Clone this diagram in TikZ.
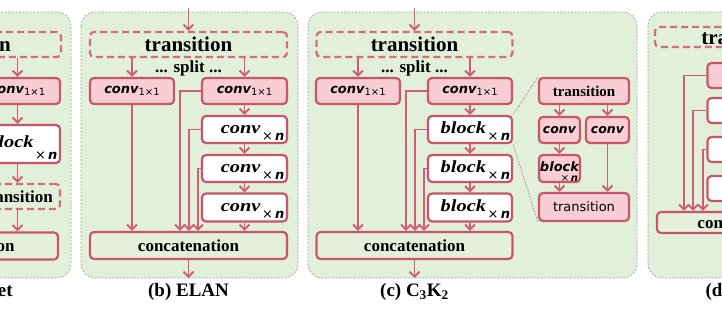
\documentclass[tikz,border=0pt]{standalone}
\usepackage{fontspec}
\setmainfont{Liberation Serif}
\newfontfamily\sansf{DejaVu Sans}
\newfontfamily\wideserif[FakeStretch=1.2]{Liberation Serif}
\usetikzlibrary{arrows.meta}

\definecolor{panelgreen}{HTML}{E2EFDA}
\definecolor{panelline}{HTML}{98A894}
\definecolor{boxpink}{HTML}{F8CED4}
\definecolor{boxred}{HTML}{C8566A}
\definecolor{flowred}{HTML}{CF5E72}
\definecolor{catgreen}{HTML}{E4F0DC}

\newcommand{\fsz}[1]{\fontsize{#1}{#1}\selectfont}
\newcommand{\sconv}[1]{{\sansf\bfseries\itshape\fsz{#1}conv}}
\newcommand{\onebyone}{\raisebox{-2pt}{\sansf\fsz{10}1×1}}
\newcommand{\timesn}[1]{{\sansf\fsz{#1}×\,{\bfseries\itshape n}}}
\newcommand{\xnbox}[2]{\makebox[80pt][r]{{\wideserif\bfseries\itshape\fsz{17}#1}\smash{\raisebox{#2}{\,\timesn{13}}}}}

\begin{document}
\begin{tikzpicture}[x=1pt, y=-1pt,
    panelbg/.style={fill=panelgreen, draw=panelline, line width=0.7pt, dash pattern=on 2pt off 1.6pt, rounded corners=14pt},
    unitbox/.style={draw=boxred, line width=2.2pt, rounded corners=4pt, inner sep=2pt},
    pinkbox/.style={unitbox, fill=boxpink},
    whitebox/.style={unitbox, fill=white, text height=7pt, text depth=0pt},
    catbox/.style={unitbox, fill=catgreen},
    transbox/.style={unitbox, draw=boxred!85, dash pattern=on 7pt off 4pt},
    flow/.style={draw=flowred, line width=1.9pt, -{Straight Barb[length=5pt,width=10pt]}},
    zoomline/.style={draw=boxred!80!black, line width=0.6pt, densely dotted},
    bigtext/.style={font=\bfseries\fsz{21}},
    midtext/.style={font=\bfseries\fsz{17}},
    captext/.style={font=\bfseries\fsz{19}}]

    % Frame
    \useasboundingbox (0,0) rectangle (722,308);
    \clip (0,0) rectangle (722,308);

    % Panel backgrounds
    \draw[panelbg] (-200,12) rectangle (71,278);
    \draw[panelbg] (81,12) rectangle (298,278);
    \draw[panelbg] (308,12) rectangle (637,278);
    \draw[panelbg] (648,12) rectangle (900,278);

    % (a) CSPNet
    \node[transbox, bigtext, minimum width=188pt, minimum height=25pt] (atr) at (-33,44.5) {transition};
    \node[pinkbox, minimum width=85pt, minimum height=26pt] (ac1) at (17.5,91) {\sconv{13}\onebyone};
    \node[whitebox, minimum width=85pt, minimum height=38pt] (abk) at (17.5,144) {\xnbox{block}{-12pt}};
    \node[transbox, midtext, minimum width=85pt, minimum height=25pt] (atr2) at (17.5,196.5) {transition};
    \node[catbox, midtext, minimum width=188pt, minimum height=27pt] (acat) at (-36,246) {concatenation};
    \draw[flow] (ac1.north |- atr.south) -- (ac1.north);
    \draw[flow] (ac1) -- (abk);
    \draw[flow] (abk) -- (atr2);
    \draw[flow] (atr2.south) -- (atr2.south |- acat.north);
    \node[captext] (alab) at (-33,292) {(a) CSPNet};

    % (b) ELAN
    \coordinate (bin) at (188.5,8);
    \coordinate (bout) at (188.5,278);
    \coordinate (bf1) at (180,0);
    \coordinate (bf2) at (189,0);
    \coordinate (bf3) at (198,0);
    \node[transbox, bigtext, minimum width=197pt, minimum height=25pt] (btr) at (188.5,44.5) {transition};
    \node[midtext, inner sep=0pt] (bsplit) at (188.5,68.5) {... split ...};
    \node[pinkbox, minimum width=84pt, minimum height=26pt] (bc1) at (132,91) {\sconv{13}\onebyone};
    \node[pinkbox, minimum width=85pt, minimum height=26pt] (bc2) at (244.5,91) {\sconv{13}\onebyone};
    \node[whitebox, minimum width=85pt, minimum height=27pt] (bn1) at (244.5,129.5) {\xnbox{conv}{-7pt}};
    \node[whitebox, minimum width=85pt, minimum height=27pt] (bn2) at (244.5,168.5) {\xnbox{conv}{-7pt}};
    \node[whitebox, minimum width=85pt, minimum height=28pt] (bn3) at (244.5,207.5) {\xnbox{conv}{-7pt}};
    \node[catbox, midtext, minimum width=197pt, minimum height=27pt] (bcat) at (188.5,245.5) {concatenation};
    \draw[flow] (bin) -- (btr.north);
    \draw[flow] (bc1.north |- btr.south) -- (bc1.north);
    \draw[flow] (bc2.north |- btr.south) -- (bc2.north);
    \foreach \a/\b in {bc2/bn1, bn1/bn2, bn2/bn3} \draw[flow] (\a) -- (\b);
    \draw[flow] (bn3.south) -- (bn3.south |- bcat.north);
    \draw[flow] (bc1.south) -- (bc1.south |- bcat.north);
    \draw[flow] (bc2.west) -| (bf1 |- bcat.north);
    \draw[flow] (bn1.west) -| (bf2 |- bcat.north);
    \draw[flow] (bn2.west) -| (bf3 |- bcat.north);
    \draw[flow] (bcat.south) -- (bout);
    \node[captext] (blab) at (188.5,292) {(b) ELAN};

    % (c) C3K2
    \coordinate (cin) at (414.5,8);
    \coordinate (cout) at (414.5,278);
    \coordinate (cf1) at (406,0);
    \coordinate (cf2) at (415,0);
    \coordinate (cf3) at (424,0);
    \node[transbox, bigtext, minimum width=196pt, minimum height=25pt] (ctr) at (414.5,44.5) {transition};
    \node[midtext, inner sep=0pt] (csplit) at (414.5,68.5) {... split ...};
    \node[pinkbox, minimum width=84pt, minimum height=26pt] (cc1) at (358,91) {\sconv{13}\onebyone};
    \node[pinkbox, minimum width=84pt, minimum height=26pt] (cc2) at (470,91) {\sconv{13}\onebyone};
    \node[whitebox, minimum width=84pt, minimum height=27pt] (cn1) at (470,129.5) {\xnbox{block}{-7pt}};
    \node[whitebox, minimum width=84pt, minimum height=27pt] (cn2) at (470,168.5) {\xnbox{block}{-7pt}};
    \node[whitebox, minimum width=84pt, minimum height=28pt] (cn3) at (470,207.5) {\xnbox{block}{-7pt}};
    \node[catbox, midtext, minimum width=196pt, minimum height=27pt] (ccat) at (414.5,245.5) {concatenation};
    \draw[flow] (cin) -- (ctr.north);
    \draw[flow] (cc1.north |- ctr.south) -- (cc1.north);
    \draw[flow] (cc2.north |- ctr.south) -- (cc2.north);
    \foreach \a/\b in {cc2/cn1, cn1/cn2, cn2/cn3} \draw[flow] (\a) -- (\b);
    \draw[flow] (cn3.south) -- (cn3.south |- ccat.north);
    \draw[flow] (cc1.south) -- (cc1.south |- ccat.north);
    \draw[flow] (cc2.west) -| (cf1 |- ccat.north);
    \draw[flow] (cn1.west) -| (cf2 |- ccat.north);
    \draw[flow] (cn2.west) -| (cf3 |- ccat.north);
    \draw[flow] (ccat.south) -- (cout);
    \node[captext] (clab) at (414.5,292) {(c) C\textsubscript{3}K\textsubscript{2}};

    % Block detail
    \node[pinkbox, font=\bfseries\fsz{15}, minimum width=90pt, minimum height=26pt] (dtr1) at (584,91) {transition};
    \node[pinkbox, minimum width=41pt, minimum height=26pt] (dcv1) at (559.5,130) {\sconv{12.5}};
    \node[pinkbox, minimum width=43pt, minimum height=26pt] (dcv2) at (607.5,130) {\sconv{12.5}};
    \node[pinkbox, inner sep=1pt, minimum width=41pt, minimum height=27pt] (dbk) at (559.5,168.5)
        {\raisebox{3pt}{\sansf\bfseries\itshape\fsz{13}block}\llap{\smash{\raisebox{-7pt}{\timesn{10}\kern1pt}}}};
    \node[pinkbox, font=\sansf\fsz{13}, minimum width=90pt, minimum height=28pt] (dtr2) at (584,207) {transition};
    \draw[flow] (dcv1.north |- dtr1.south) -- (dcv1.north);
    \draw[flow] (dcv2.north |- dtr1.south) -- (dcv2.north);
    \draw[flow] (dcv1) -- (dbk);
    \draw[flow] (dbk.south) -- (dbk.south |- dtr2.north);
    \draw[flow] (dcv2.south) -- (dcv2.south |- dtr2.north);
    \draw[zoomline] (cn1.north east) -- (dtr1.north west);
    \draw[zoomline] (cn1.south east) -- (dtr2.south west);

    % (d) partial
    \coordinate (df1) at (684,0);
    \coordinate (df2) at (693,0);
    \coordinate (df3) at (703,0);
    \node[transbox, bigtext, minimum width=180pt, minimum height=20pt] (dtr) at (745,37) {transition};
    \node[pinkbox, minimum width=85pt, minimum height=25pt] (dc1) at (750,75.5) {};
    \node[whitebox, minimum width=85pt, minimum height=25pt] (dn1) at (750,110.5) {};
    \node[whitebox, minimum width=85pt, minimum height=25pt] (dn2) at (750,149.5) {};
    \node[whitebox, minimum width=85pt, minimum height=25pt] (dn3) at (750,188.5) {};
    \node[catbox, midtext, minimum width=182pt, minimum height=21pt] (dcat) at (748,222.5) {concatenation};
    \draw[flow] (dc1.west) -| (df1 |- dcat.north);
    \draw[flow] (dn1.west) -| (df2 |- dcat.north);
    \draw[flow] (dn2.west) -| (df3 |- dcat.north);
    \node[captext, anchor=west] (dlab) at (702,292) {(d)};
\end{tikzpicture}
\end{document}
